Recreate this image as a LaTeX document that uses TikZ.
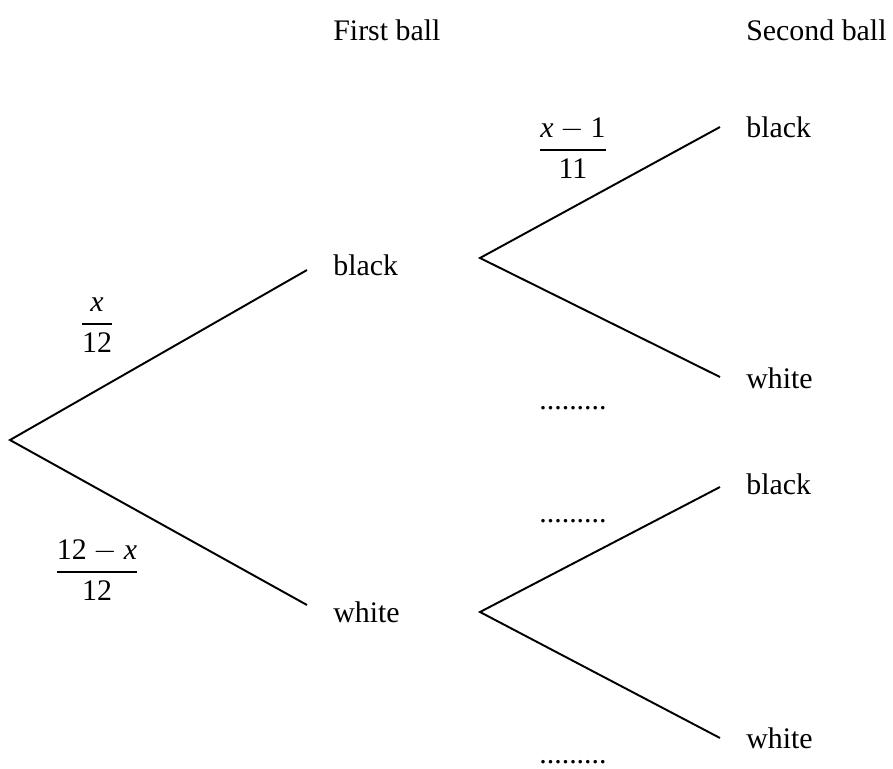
\documentclass[tikz,border=0pt]{standalone}
\usepackage{amsmath}
\usepackage{fontspec}
\setmainfont{Liberation Serif}
\newcommand{\vx}{\text{\itshape x}}
\newcommand{\tn}[1]{\text{#1}}
\newcommand{\pfrac}[2]{\genfrac{}{}{0.9pt}{0}{#1}{#2}}
\begin{document}
\begin{tikzpicture}[x=0.02cm,y=-0.02cm,
  font=\fontsize{17}{20}\selectfont,
  branch/.style={line width=1.1pt},
  lab/.style={anchor=west,inner sep=0pt},
  prob/.style={inner sep=0pt}]
\useasboundingbox (0,0) rectangle (893,768);

\node[lab] (head1) at (333,30) {First ball};
\node[lab] (head2) at (746,30) {Second ball};

\coordinate (root) at (10,440);
\coordinate (Bin) at (307,270);
\coordinate (Win) at (307,605);
\coordinate (Bout) at (480,258);
\coordinate (Wout) at (480,612);
\coordinate (BB) at (720,127);
\coordinate (BW) at (720,377);
\coordinate (WB) at (720,487);
\coordinate (WW) at (720,738);

\draw[branch] (Bin) -- (root) -- (Win);
\draw[branch] (BB) -- (Bout) -- (BW);
\draw[branch] (WB) -- (Wout) -- (WW);

\node[lab] (B) at (333,265) {black};
\node[lab] (W) at (333,612) {white};
\node[lab] (bb) at (746,127) {black};
\node[lab] (bw) at (746,378) {white};
\node[lab] (wb) at (746,484) {black};
\node[lab] (ww) at (746,738) {white};

\node[prob] (pB) at (97,325) {$\pfrac{\vx}{\tn{12}}$};
\node[prob] (pW) at (97,570) {$\pfrac{\tn{12}-\vx}{\tn{12}}$};
\node[prob] (pBB) at (573,148) {$\pfrac{\vx-\tn{1}}{\tn{11}}$};

\node[prob] (pBW) at (573,408) {.........};
\node[prob] (pWB) at (573,521) {.........};
\node[prob] (pWW) at (573,762) {.........};
\end{tikzpicture}
\end{document}
